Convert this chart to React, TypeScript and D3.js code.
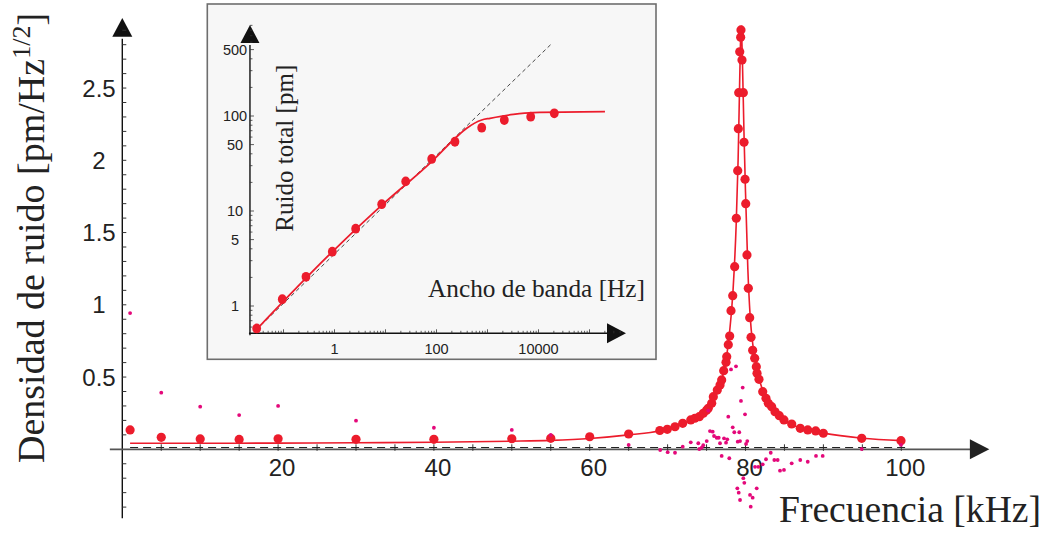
import React from "react";
import * as d3 from "d3";

// ---------- main chart data (frequency kHz, density pm/Hz^1/2) ----------
const bigDots: [number, number][] = [
  [1, 0.134], [5, 0.083], [10, 0.072], [15, 0.068], [20, 0.073], [30, 0.069],
  [40, 0.069], [50, 0.073], [55, 0.076], [60, 0.087], [65, 0.106], [69, 0.13],
  [69.96, 0.138], [70.95, 0.156], [71.94, 0.18], [72.97, 0.203], [73.5, 0.215],
  [74.07, 0.226], [74.58, 0.249], [75.0, 0.27], [75.22, 0.284], [75.66, 0.318],
  [75.87, 0.364], [76.38, 0.41], [76.73, 0.445], [76.94, 0.48], [77.2, 0.544],
  [77.5, 0.602], [77.59, 0.641], [77.79, 0.724], [77.97, 0.784], [78.14, 0.959],
  [78.36, 1.063], [78.61, 1.264], [78.82, 1.599], [79.0, 1.928], [79.08, 2.219],
  [79.13, 2.468], [79.26, 2.751], [79.38, 2.851], [79.42, 2.902],
  [79.55, 2.694], [79.72, 2.468], [79.81, 2.125], [79.94, 1.869], [80.03, 1.7],
  [80.19, 1.345], [80.36, 1.114], [80.54, 0.911], [80.71, 0.775], [80.92, 0.685],
  [81.18, 0.63], [81.39, 0.572], [81.48, 0.526], [81.73, 0.484], [82.21, 0.399],
  [82.63, 0.353], [82.93, 0.318], [83.36, 0.295], [83.79, 0.26], [84.34, 0.233],
  [84.94, 0.203], [85.93, 0.175], [87.03, 0.145], [87.99, 0.134], [89.01, 0.127],
  [89.99, 0.111], [94.92, 0.076], [99.96, 0.06],
];

const smallDots: [number, number][] = [
  [1, 0.943], [5, 0.392], [10, 0.295], [15, 0.237], [20, 0.3], [30, 0.198],
  [40, 0.149], [50, 0.134], [55, 0.099], [65, 0.03],
  [79.64, 0.427], [79.42, 0.335], [79.94, 0.242], [77.79, 0.226], [78.36, 0.152],
  [78.56, 0.118], [79.2, 0.118], [75.44, 0.126], [75.79, 0.122], [75.96, 0.092],
  [76.3, 0.08], [76.56, 0.08], [77.24, 0.076], [77.66, 0.069], [76.73, 0.042],
  [77.5, 0.046], [79.3, 0.057], [79.0, 0.053], [80.23, 0.057], [80.07, 0.037],
  [75.02, 0.057], [74.58, 0.028], [73.94, 0.042], [74.38, 0.011], [74.07, 0.002],
  [72.97, 0.048], [71.94, 0.018], [75.22, 0.268], [78.78, 0.574], [78.14, 0.553],
  [69.05, -0.005], [70.01, -0.02], [70.95, -0.024], [76.94, -0.046], [77.92, -0.062],
  [83.24, -0.024], [83.7, -0.074], [84.13, -0.074], [82.63, -0.069], [82.21, -0.104],
  [81.22, -0.121], [81.64, -0.121], [81.44, -0.27], [79.72, -0.2], [79.85, -0.232],
  [78.95, -0.27], [79.13, -0.3], [80.58, -0.316], [80.92, -0.335], [79.3, -0.351],
  [80.67, -0.397], [84.43, -0.148], [84.94, -0.143], [85.93, -0.097], [87.03, -0.074],
  [87.99, -0.086], [89.05, -0.046], [89.91, -0.046], [94.92, 0.002], [99.96, 0.03],
];

const fitCurve: [number, number][] = [
  [1, 0.042], [10, 0.042], [20, 0.043], [30, 0.045], [40, 0.049], [50, 0.056],
  [55, 0.062], [60, 0.075], [65, 0.1], [69, 0.128], [72, 0.18], [74, 0.225],
  [75.5, 0.3], [76.5, 0.41], [77.3, 0.56], [77.9, 0.78], [78.4, 1.1], [78.8, 1.55],
  [79.05, 2.0], [79.2, 2.4], [79.35, 2.8], [79.45, 2.93], [79.6, 2.7], [79.8, 2.2],
  [80.0, 1.78], [80.3, 1.25], [80.6, 0.92], [81.0, 0.7], [81.5, 0.54], [82.2, 0.41],
  [83, 0.32], [84, 0.25], [85, 0.2], [87, 0.148], [90, 0.112], [95, 0.077], [100, 0.06],
];

const baseline: [number, number][] = [[1, 0.012], [101, 0.012]];

const yTickLabels = [0.5, 1, 1.5, 2, 2.5];
const xTickLabels = [20, 40, 60, 80, 100];

// ---------- inset data (bandwidth Hz, total noise pm) ----------
const insetBandwidth = [0.0298, 0.0947, 0.276, 0.906, 2.6, 8.42, 24.9, 80.5, 230, 770, 2135, 7030, 20400];
const insetNoise = [0.58, 1.18, 2.03, 3.73, 6.51, 11.8, 20.5, 35.3, 53.6, 75.3, 90.8, 98.3, 106.8];
const insetFitB = [0.0289, 0.893, 8.15, 86.5, 249, 391, 770, 1120, 3206, 7900, 201000];
const insetFitN = [0.559, 3.7, 11.3, 34.4, 60.5, 74.3, 90.8, 94.6, 104, 108.6, 111];
const insetRefB = [0.0289, 18970];
const insetRefN = [0.559, 591];
const insetYLabels = [1, 5, 10, 50, 100, 500];
const insetXLabels = [1, 100, 10000];

const RED = "#ec1c2c";
const MAG = "#e4087a";
const SERIF = "'Liberation Serif', 'Times New Roman', serif";
const SANS = "'Liberation Sans', Arial, sans-serif";

export default function App() {
  const x = d3.scaleLinear().domain([0, 100]).range([122.3, 901.3]);
  const y = d3.scaleLinear().domain([0, 1]).range([449.3, 304.8]);

  const ix = d3.scaleLog().domain([1, 1e4]).range([334.5, 538.5]);
  const iy = d3.scaleLog().domain([1, 100]).range([306, 116]);

  const fitLine = d3.line<[number, number]>()
    .x((d) => x(d[0]))
    .y((d) => y(d[1]))
    .curve(d3.curveMonotoneX);
  const straight = d3.line<[number, number]>().x((d) => x(d[0])).y((d) => y(d[1]));

  const insetFit = d3.line<number>()
    .x((_, i) => ix(insetFitB[i]))
    .y((d) => iy(d))
    .curve(d3.curveMonotoneX);
  const insetRef = d3.line<number>().x((_, i) => ix(insetRefB[i])).y((d) => iy(d));

  // main axis geometry
  const x0 = x(0);
  const yAxisBottom = y(-0.477);
  const yTip = y(2.985);
  const yArrowBase = y(2.855);
  const axY = y(0);
  const xLeft = x(-1.6);
  const xTip = x(111.3);
  const xArrowBase = x(108.8);

  const yMinor = d3.range(-4, 30).map((k) => k / 10).filter((v) => Math.abs(v) > 1e-9);
  const xMinor = d3.range(1, 21).map((k) => k * 5);

  // inset geometry
  const iAxX = ix(0.022);
  const iAxY = iy(0.516);
  const iYTip = 25;
  const iYBase = 43;
  const iXTip = 626;
  const iXBase = 607;

  const iyTicks: { v: number; major: boolean }[] = [];
  for (let e = -1; e <= 2; e++) {
    for (let d = 1; d <= 9; d++) {
      const v = d * Math.pow(10, e);
      if (v >= 0.55 && v <= 900) iyTicks.push({ v, major: d === 1 || d === 5 });
    }
  }
  const ixTicks: { v: number; major: boolean }[] = [];
  for (let e = -2; e <= 5; e++) {
    for (let d = 1; d <= 9; d++) {
      const v = d * Math.pow(10, e);
      if (v >= 0.025 && v <= 4e5) ixTicks.push({ v, major: d === 1 });
    }
  }

  return (
    <svg
      width={1046}
      height={534}
      style={{ position: "absolute", left: 0, top: 0, background: "#fff" }}
    >
      {/* ---------------- main axes ---------------- */}
      <line x1={x0} x2={x0} y1={yAxisBottom} y2={yArrowBase + 2} stroke="#111" strokeWidth={1.4} />
      <polygon points={`${x0},${yTip} ${x0 - 10},${yArrowBase} ${x0 + 10},${yArrowBase}`} fill="#111" />
      {yMinor.map((v) => (
        <line key={"yt" + v} x1={x0} x2={x0 + 4} y1={y(v)} y2={y(v)} stroke="#333" strokeWidth={1} />
      ))}
      <line x1={xLeft} x2={xArrowBase + 2} y1={axY} y2={axY} stroke="#555" strokeWidth={1.8} />
      <polygon points={`${xTip},${axY} ${xArrowBase},${axY - 10} ${xArrowBase},${axY + 10}`} fill="#222" />
      {xMinor.map((v) => (
        <line key={"xt" + v} x1={x(v)} x2={x(v)} y1={axY - 5} y2={axY + 1.5} stroke="#333" strokeWidth={1} />
      ))}

      {yTickLabels.map((v) => (
        <text key={"yl" + v} x={99} y={y(v)} fontFamily={SANS} fontSize={24} fill="#222"
          textAnchor="middle" dominantBaseline="central">{String(v)}</text>
      ))}
      {xTickLabels.map((v) => (
        <text key={"xl" + v} x={x(v) + 4} y={467} fontFamily={SANS} fontSize={24} fill="#222"
          textAnchor="middle" dominantBaseline="central">{String(v)}</text>
      ))}

      {/* reference dashed line */}
      <path d={straight(baseline) || ""} stroke="#222" strokeWidth={1.1} strokeDasharray="8,5" fill="none" />

      {/* fit */}
      <path d={fitLine(fitCurve) || ""} stroke={RED} strokeWidth={1.6} fill="none" />

      {/* big dots */}
      {bigDots.map((d, i) => (
        <circle key={"b" + i} cx={x(d[0])} cy={y(d[1])} r={4.6} fill={RED} />
      ))}
      {/* small dots */}
      {smallDots.map((d, i) => (
        <circle key={"s" + i} cx={x(d[0])} cy={y(d[1])} r={1.9} fill={MAG} />
      ))}

      {/* axis titles */}
      <text x={779} y={521.7} fontFamily={SERIF} fontSize={37} fill="#222" textLength={262}
        lengthAdjust="spacingAndGlyphs">Frecuencia [kHz]</text>
      <text transform="translate(44,463) rotate(-90)" fontFamily={SERIF} fontSize={38} fill="#222">
        Densidad de ruido [pm/Hz
        <tspan fontSize={26} dy={-14}>1/2</tspan>
        <tspan dy={14}>]</tspan>
      </text>

      {/* ---------------- inset ---------------- */}
      <rect x={207.3} y={4} width={448.7} height={355.3} fill="#f7f7f7" stroke="#6e6e6e" strokeWidth={1.6} />

      <line x1={iAxX} x2={iAxX} y1={iAxY + 2} y2={iYBase + 2} stroke="#111" strokeWidth={1.4} />
      <polygon points={`${iAxX},${iYTip} ${iAxX - 9.5},${iYBase} ${iAxX + 9.5},${iYBase}`} fill="#111" />
      <line x1={iAxX - 1} x2={iXBase + 2} y1={iAxY} y2={iAxY} stroke="#111" strokeWidth={1.4} />
      <polygon points={`${iXTip},${iAxY} ${iXBase},${iAxY - 10} ${iXBase},${iAxY + 10}`} fill="#111" />
      {iyTicks.map((t, i) => (
        <line key={"iyt" + i} x1={iAxX} x2={iAxX + (t.major ? 4 : 2.5)} y1={iy(t.v)} y2={iy(t.v)}
          stroke="#333" strokeWidth={0.8} />
      ))}
      {ixTicks.map((t, i) => (
        <line key={"ixt" + i} x1={ix(t.v)} x2={ix(t.v)} y1={iAxY} y2={iAxY - (t.major ? 4 : 2.5)}
          stroke="#333" strokeWidth={0.8} />
      ))}
      {insetYLabels.map((v) => (
        <text key={"iyl" + v} x={235} y={iy(v)} fontFamily={SANS} fontSize={14.5} fill="#222"
          textAnchor="middle" dominantBaseline="central">{String(v)}</text>
      ))}
      {insetXLabels.map((v) => (
        <text key={"ixl" + v} x={ix(v)} y={348.5} fontFamily={SANS} fontSize={14.5} fill="#222"
          textAnchor="middle" dominantBaseline="central">{String(v)}</text>
      ))}

      <path d={insetRef(insetRefN) || ""} stroke="#333" strokeWidth={0.9} strokeDasharray="4,3" fill="none" />
      <path d={insetFit(insetFitN) || ""} stroke={RED} strokeWidth={1.8} fill="none" />
      {insetNoise.map((n, i) => (
        <ellipse key={"in" + i} cx={ix(insetBandwidth[i])} cy={iy(n)} rx={4.4} ry={4.9} fill={RED} />
      ))}

      <text transform="translate(293,231.7) rotate(-90)" fontFamily={SERIF} fontSize={25} fill="#222"
        textLength={167} lengthAdjust="spacingAndGlyphs">Ruido total [pm]</text>
      <text x={428} y={296.7} fontFamily={SERIF} fontSize={25} fill="#222" textLength={217}
        lengthAdjust="spacingAndGlyphs">Ancho de banda [Hz]</text>
    </svg>
  );
}
